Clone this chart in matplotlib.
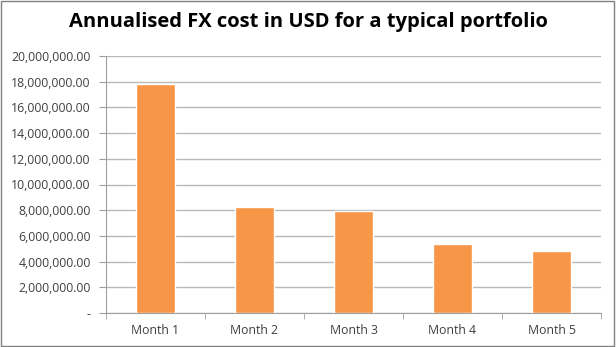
import matplotlib.pyplot as plt
from matplotlib.ticker import FuncFormatter, MultipleLocator
from matplotlib.patches import Rectangle

categories = ["Month 1", "Month 2", "Month 3", "Month 4", "Month 5"]
values = [17800000, 8250000, 7950000, 5350000, 4820000]
title = "Annualised FX cost in USD for a typical portfolio"

plt.rcParams['font.family'] = ['Open Sans', 'DejaVu Sans']
fig = plt.figure(figsize=(6.16, 3.47), dpi=100)
ax = fig.add_axes([106/616, 1-313/347, (601-106)/616, (313-56)/347])

x = list(range(len(categories)))
ax.bar(x, values, width=0.4, color='#F79646', edgecolor='#FFFFFF', linewidth=1.0, zorder=3)

ax.set_xlim(-0.5, len(categories)-0.5)
ax.set_ylim(0, 20000000)
ax.yaxis.set_major_locator(MultipleLocator(2000000))

def fmt(v, pos):
    if v == 0:
        return "-"
    return f"{v:,.2f}"
ax.yaxis.set_major_formatter(FuncFormatter(fmt))
ax.grid(axis='y', color='#B8B8B8', linewidth=1.0, zorder=0)
ax.set_axisbelow(True)

ax.set_xticks(x)
ax.set_xticklabels(categories)
ax.set_xticks([i - 0.5 for i in range(len(categories)+1)], minor=True)
ax.tick_params(axis='x', which='major', length=0, pad=8, labelsize=8.8, colors='#404040')
ax.tick_params(axis='x', which='minor', length=4, color='#A0A0A0', direction='out')
ax.tick_params(axis='y', length=5, color='#A0A0A0', labelsize=8.8, labelcolor='#404040', pad=6)
for s in ['top', 'right']:
    ax.spines[s].set_visible(False)
ax.spines['left'].set_color('#A0A0A0')
ax.spines['bottom'].set_color('#A0A0A0')

fig.text(0.5, 1-22/347, title, ha='center', va='center', fontsize=14.5, fontweight='bold', color='#000000')

fig.patches.append(Rectangle((0.002, 0.003), 0.995, 0.994, transform=fig.transFigure,
                             fill=False, edgecolor='#808080', linewidth=1.0))

fig.savefig("out.png", dpi=100)
